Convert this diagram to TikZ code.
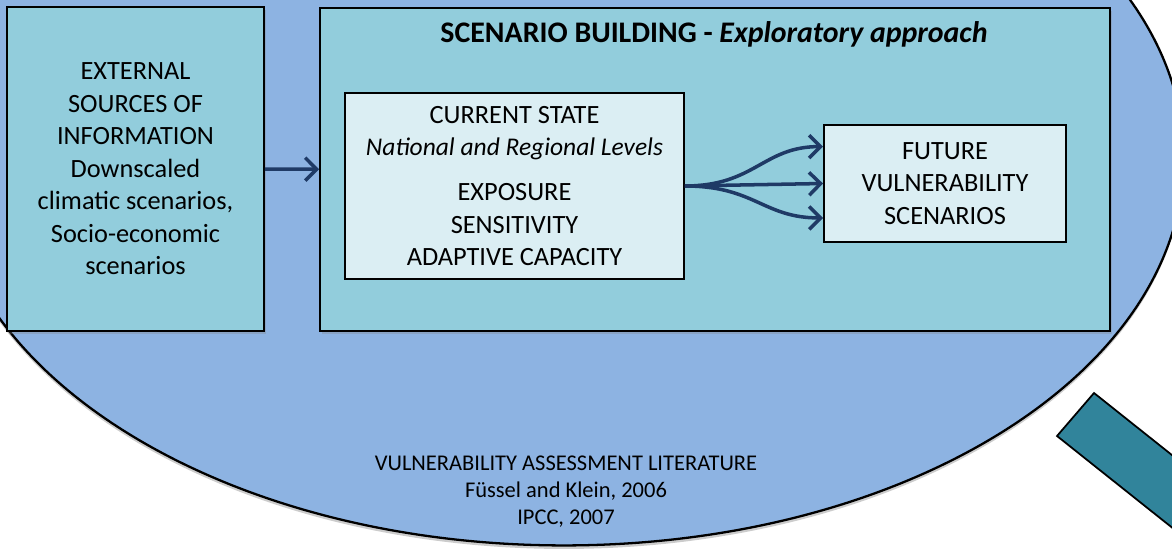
\documentclass[tikz,border=0pt]{standalone}
\usepackage{fontspec}
\setmainfont{Carlito}
\usepackage{tikz}
\usetikzlibrary{arrows.meta,shadows}
\definecolor{lensblue}{HTML}{8DB3E2}
\definecolor{boxblue}{HTML}{92CDDC}
\definecolor{paleblue}{HTML}{DBEEF3}
\definecolor{handleteal}{HTML}{31849B}
\definecolor{arrownavy}{HTML}{1F3A66}
\tikzset{
  outerbox/.style={draw, line width=1.1pt, fill=boxblue, align=center,
    drop shadow={shadow xshift=1.2pt, shadow yshift=-1.5pt, opacity=0.3}},
  innerbox/.style={draw, line width=1.1pt, fill=paleblue, align=center},
  flow/.style={draw=arrownavy, line width=2pt,
    -{Straight Barb[length=6.5pt,width=13pt,line width=2pt]}}
}

\begin{document}
\begin{tikzpicture}[x=0.02cm,y=-0.02cm,font=\fontsize{15}{18.5}\selectfont]
\clip (0,0) rectangle (1172,554);
%%Lens
\draw[line width=1.3pt, fill=lensblue,
  drop shadow={shadow xshift=0pt, shadow yshift=-2pt, opacity=0.4}]
  (564,158) ellipse [x radius=12.4cm, y radius=7.75cm];
%%Handle
\draw[line width=1pt, fill=handleteal]
  (1094,393) -- (1057,436) -- (1214,561) -- (1251,518) -- cycle;
%%Boxes
\node[outerbox, minimum width=5.14cm, minimum height=6.48cm] (ext) at (135.5,169)
  {EXTERNAL\\SOURCES OF\\INFORMATION\\Downscaled\\climatic scenarios,\\Socio-economic\\scenarios};
\node[outerbox, minimum width=15.8cm, minimum height=6.46cm] (build) at (715,169.5) {};
\node[anchor=base, font=\fontsize{17}{20}\selectfont] (title) at (714,43)
  {\textbf{SCENARIO BUILDING - \textit{Exploratory approach}}};
\node[innerbox, minimum width=6.78cm, minimum height=3.72cm] (current) at (514.5,186)
  {CURRENT STATE\\\textit{\fontsize{14.5}{18.5}\selectfont National and Regional Levels}\\[7pt]EXPOSURE\\SENSITIVITY\\ADAPTIVE CAPACITY};
\node[innerbox, minimum width=4.84cm, minimum height=2.34cm] (future) at (945,183.5)
  {FUTURE\\VULNERABILITY\\SCENARIOS};
%%Literature
\node[align=center, font=\fontsize{12.8}{15.4}\selectfont] (lit) at (566,492)
  {VULNERABILITY ASSESSMENT LITERATURE\\Füssel and Klein, 2006\\IPCC, 2007};
%%Arrows
\draw[flow] (ext) -- (build);
\draw[flow] (current.east) -- (future.west);
\draw[flow] (current.east) .. controls +(70,0) and +(-60,0) .. ([yshift=21pt]future.west);
\draw[flow] (current.east) .. controls +(70,0) and +(-60,0) .. ([yshift=-19.6pt]future.west);
\end{tikzpicture}
\end{document}
